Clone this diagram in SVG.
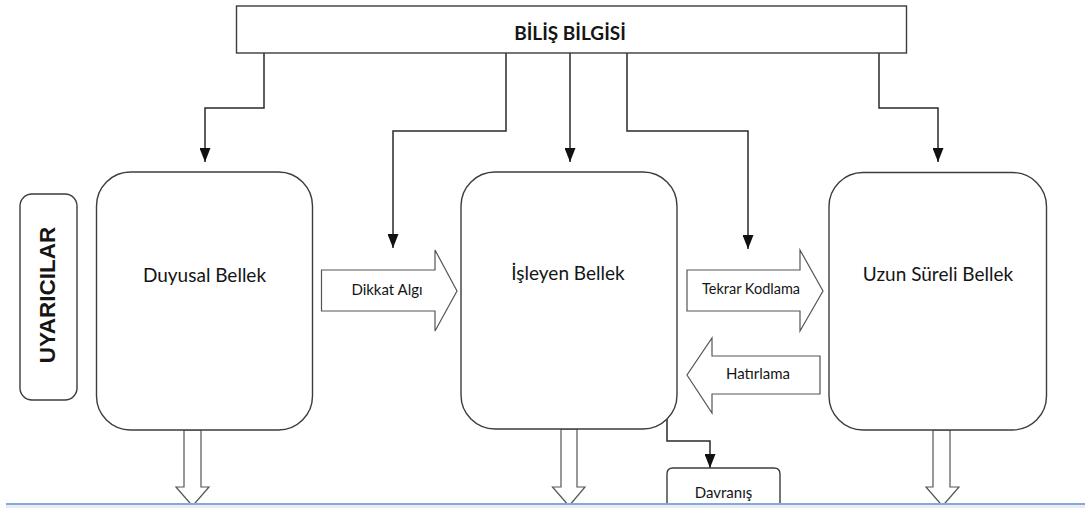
<svg xmlns="http://www.w3.org/2000/svg" width="1085" height="508" viewBox="0 0 1085 508">
  <style>
    .box { fill: #ffffff; stroke: #3c3c3c; stroke-width: 1.4; }
    .blk { fill: #ffffff; stroke: #555555; stroke-width: 1.2; stroke-linejoin: miter; }
    .con { fill: none; stroke: #2a2a2a; stroke-width: 1.5; }
    .lbl { font-family: Lato, "Liberation Sans", sans-serif; fill: #151515; text-anchor: middle; }
    .big { font-size: 19px; }
    .sm { font-size: 15px; }
  </style>
  <defs>
    <marker id="ah" viewBox="0 0 14 11" refX="14" refY="5.5" markerWidth="14" markerHeight="11" markerUnits="userSpaceOnUse" orient="auto">
      <path d="M0,0 L14,5.5 L0,11 Z" fill="#111111"/>
    </marker>
  </defs>
  <rect x="0" y="0" width="1085" height="508" fill="#ffffff"/>

  <g id="bottom-arrows">
    <polygon class="blk" points="184,430 184,487 176,487 192.5,506 209,487 201,487 201,430"/>
    <polygon class="blk" points="561,429 561,487 552.5,487 569,506 585,487 577,487 577,429"/>
    <polygon class="blk" points="933,430 933,487 926,487 942.5,506 959,487 950,487 950,430"/>
  </g>

  <g id="connectors">
    <path class="con" d="M264,53 V108 H205 V162" marker-end="url(#ah)"/>
    <path class="con" d="M506,53 V131 H393 V248" marker-end="url(#ah)"/>
    <path class="con" d="M570,53 V162" marker-end="url(#ah)"/>
    <path class="con" d="M627,53 V131 H748 V249" marker-end="url(#ah)"/>
    <path class="con" d="M879,53 V108 H938 V162" marker-end="url(#ah)"/>
    <path class="con" d="M667,418 V441 H710 V468" marker-end="url(#ah)"/>
  </g>

  <g id="bilis-bilgisi">
    <rect class="box" x="236.5" y="6" width="670" height="47"/>
    <text class="lbl" x="570" y="40" font-size="19" font-weight="bold">BİLİŞ BİLGİSİ</text>
  </g>

  <g id="uyaricilar">
    <rect class="box" x="20" y="194" width="57" height="206" rx="12" ry="12"/>
    <text x="0" y="0" transform="translate(55,295) rotate(-90)" font-family="'Liberation Sans', Arial, sans-serif" font-weight="bold" font-size="22.5" fill="#151515" text-anchor="middle">UYARICILAR</text>
  </g>

  <g id="duyusal-bellek">
    <rect class="box" x="96.5" y="172" width="216" height="258" rx="34" ry="34"/>
    <text class="lbl big" x="204.5" y="282">Duyusal Bellek</text>
  </g>

  <g id="isleyen-bellek">
    <rect class="box" x="461" y="172" width="216" height="257" rx="34" ry="34"/>
    <text class="lbl big" x="568" y="280">İşleyen Bellek</text>
  </g>

  <g id="uzun-sureli-bellek">
    <rect class="box" x="829" y="172.5" width="217.5" height="257.5" rx="34" ry="34"/>
    <text class="lbl big" x="938" y="281">Uzun Süreli Bellek</text>
  </g>

  <g id="dikkat-algi">
    <polygon class="blk" points="321.5,270 435,270 435,250 457,291 435,331 435,311 321.5,311"/>
    <text class="lbl sm" x="387" y="295">Dikkat Algı</text>
  </g>

  <g id="tekrar-kodlama">
    <polygon class="blk" points="687,270 800,270 800,250 823,291 800,331 800,311 687,311"/>
    <text class="lbl" x="751" y="294" font-size="14.5">Tekrar Kodlama</text>
  </g>

  <g id="hatirlama">
    <polygon class="blk" points="820,356 712,356 712,338 687,375 712,413 712,394 820,394"/>
    <text class="lbl sm" x="758" y="379">Hatırlama</text>
  </g>

  <g id="davranis">
    <path class="box" d="M667,508 V474 Q667,468 673,468 H774 Q780,468 780,474 V508"/>
    <text class="lbl sm" x="723.5" y="498">Davranış</text>
  </g>

  <g id="baseline">
    <rect x="6" y="503" width="1079" height="2" fill="#88a8da"/>
    <rect x="6" y="505" width="1079" height="3" fill="#e8edf5"/>
  </g>
</svg>
